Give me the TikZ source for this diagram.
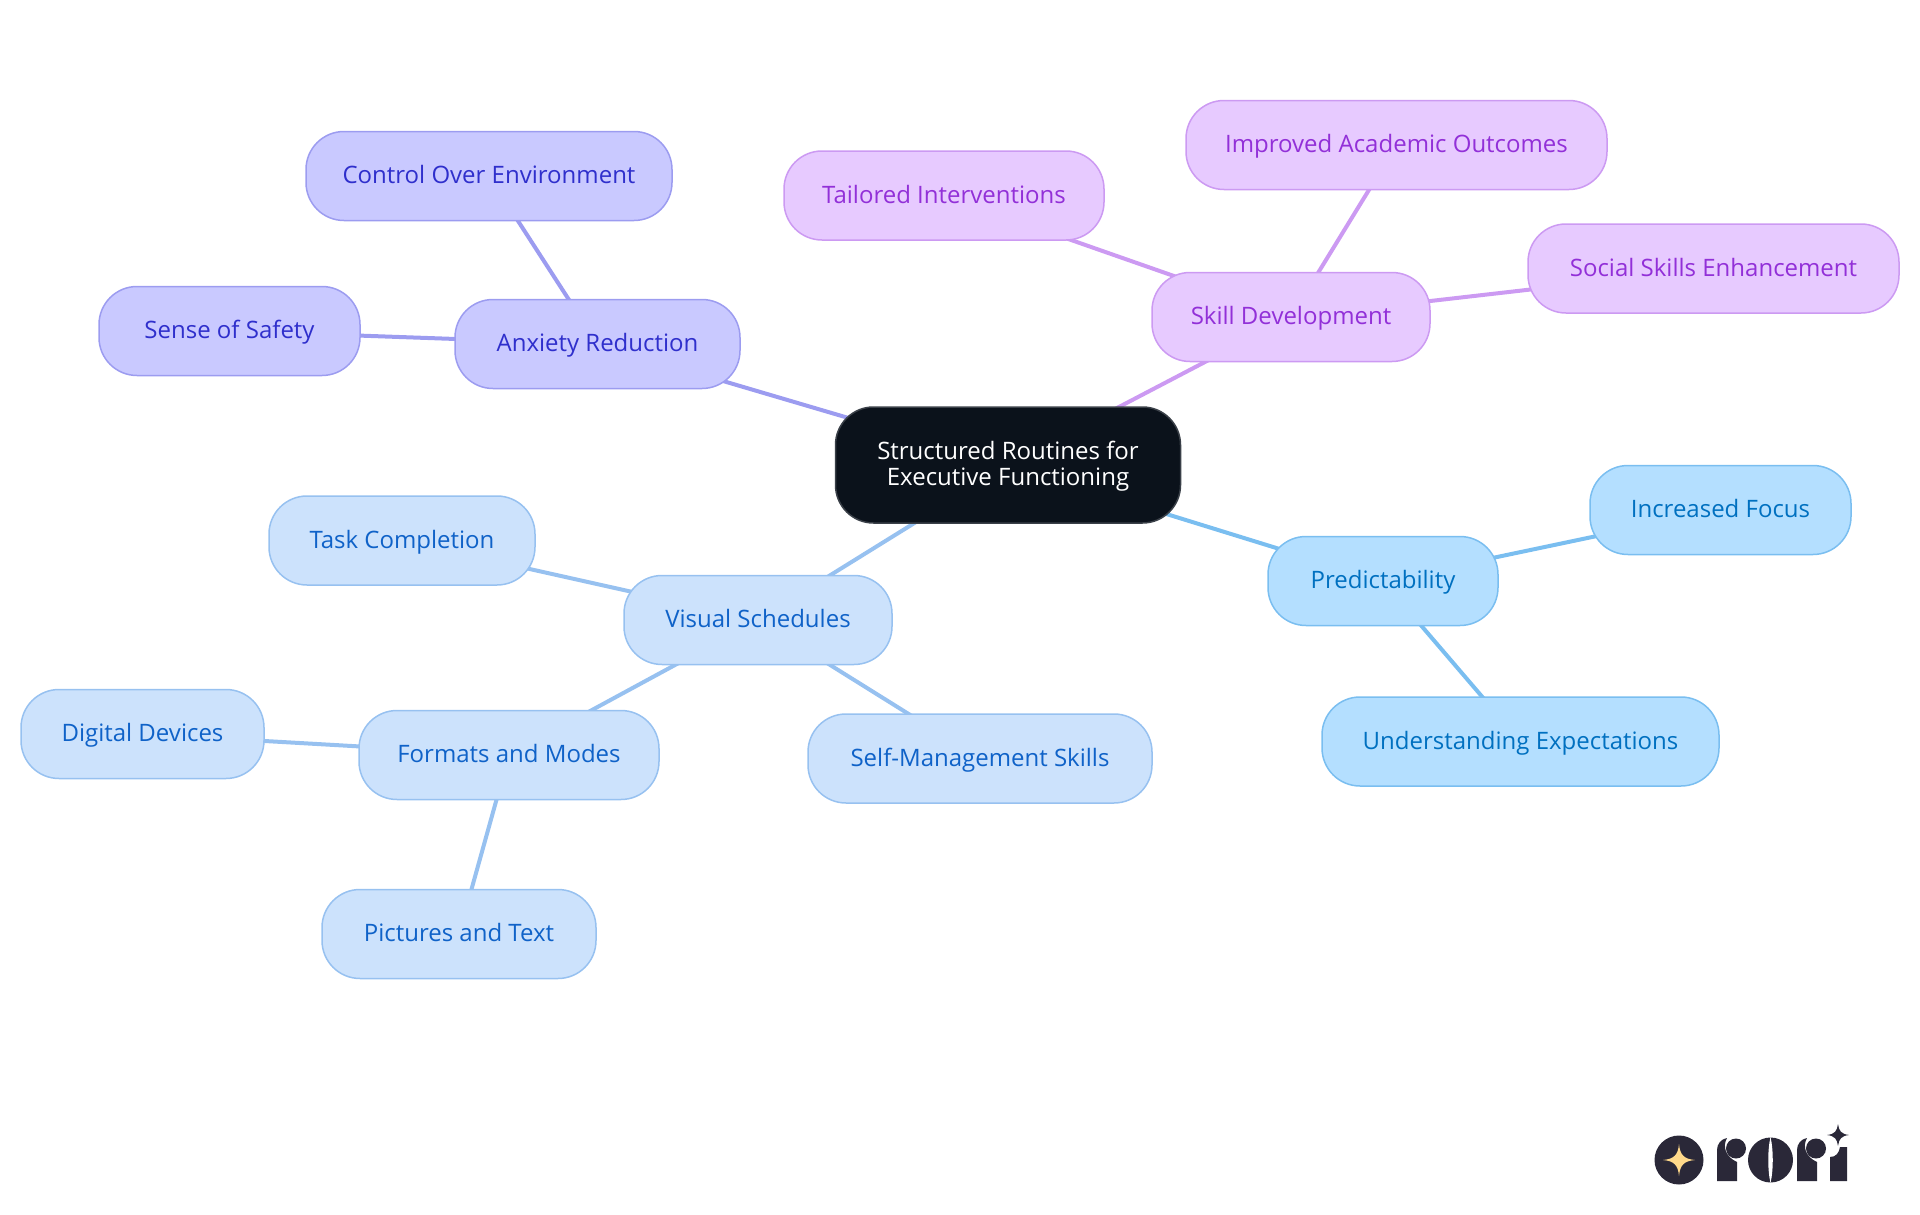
\documentclass[tikz,border=0pt]{standalone}
\usepackage{fontspec}
\setmainfont{Open Sans}
\usetikzlibrary{backgrounds}
\definecolor{rootfill}{HTML}{0B121B}
\definecolor{rootline}{HTML}{3A4048}
\definecolor{calmfill}{HTML}{C9C9FF}
\definecolor{calmline}{HTML}{9C9CF0}
\definecolor{calmtext}{HTML}{2F2FCC}
\definecolor{skillfill}{HTML}{E7CAFF}
\definecolor{skillline}{HTML}{CC9AF2}
\definecolor{skilltext}{HTML}{9230D8}
\definecolor{predfill}{HTML}{B4DFFF}
\definecolor{predline}{HTML}{7ABEF0}
\definecolor{predtext}{HTML}{0070C0}
\definecolor{visfill}{HTML}{CCE2FC}
\definecolor{visline}{HTML}{97C1F0}
\definecolor{vistext}{HTML}{0F62C8}
\definecolor{logodark}{HTML}{2A2838}
\definecolor{logostar}{HTML}{FFD98A}
\tikzset{
	topic/.style={rounded corners=38pt, line width=1.5pt, minimum height=89pt, inner sep=0pt, align=center,
		font=\fontsize{24}{26.3}\selectfont}, % Base de todos los nodos
	oneline/.style={topic, text height=20pt, text depth=4.5pt}, % Misma linea base
	root/.style={topic, fill=rootfill, draw=rootline, text=white},
	calm/.style={oneline, fill=calmfill, draw=calmline, text=calmtext},
	skill/.style={oneline, fill=skillfill, draw=skillline, text=skilltext},
	pred/.style={oneline, fill=predfill, draw=predline, text=predtext},
	vis/.style={oneline, fill=visfill, draw=visline, text=vistext},
	link/.style={line width=4pt}
}
\begin{document}
\begin{tikzpicture}[x=1pt, y=-1pt]
	\useasboundingbox (0,0) rectangle (1920,1215);
	\node[root, minimum width=345pt, minimum height=116pt] (routines) at (1008,465) {\rule{0pt}{22pt}Structured Routines for\\Executive Functioning\rule[-7pt]{0pt}{7pt}};
	\node[calm, minimum width=285pt] (anxiety) at (597.5,344) {Anxiety Reduction};
	\node[calm, minimum width=366pt] (control) at (489,176) {Control Over Environment};
	\node[calm, minimum width=261pt] (safety) at (229.5,331) {Sense of Safety};
	\node[skill, minimum width=278pt] (develop) at (1291,317) {Skill Development};
	\node[skill, minimum width=320pt] (tailored) at (944,195.5) {Tailored Interventions};
	\node[skill, minimum width=421pt] (academic) at (1396.5,145) {Improved Academic Outcomes};
	\node[skill, minimum width=371pt] (social) at (1713.5,268.5) {Social Skills Enhancement};
	\node[pred, minimum width=230pt] (predict) at (1383,581) {Predictability};
	\node[pred, minimum width=261pt] (focus) at (1720.5,510) {Increased Focus};
	\node[pred, minimum width=397pt] (expect) at (1520.5,741.5) {Understanding Expectations};
	\node[vis, minimum width=268pt] (visual) at (758,620) {Visual Schedules};
	\node[vis, minimum width=266pt] (task) at (402,540.5) {Task Completion};
	\node[vis, minimum width=300pt] (formats) at (509,755) {Formats and Modes};
	\node[vis, minimum width=344pt] (selfman) at (980,758.5) {Self-Management Skills};
	\node[vis, minimum width=243pt] (digital) at (142.5,734) {Digital Devices};
	\node[vis, minimum width=274pt] (pictures) at (459,934) {Pictures and Text};
	\begin{scope}[on background layer]
		\draw[link, calmline] (routines.center) -- (anxiety.center);
		\draw[link, calmline] (anxiety.center) -- (control.center);
		\draw[link, calmline] (anxiety.center) -- (safety.center);
		\draw[link, skillline] (routines.center) -- (develop.center);
		\draw[link, skillline] (develop.center) -- (tailored.center);
		\draw[link, skillline] (develop.center) -- (academic.center);
		\draw[link, skillline] (develop.center) -- (social.center);
		\draw[link, predline] (routines.center) -- (predict.center);
		\draw[link, predline] (predict.center) -- (focus.center);
		\draw[link, predline] (predict.center) -- (expect.center);
		\draw[link, visline] (routines.center) -- (visual.center);
		\draw[link, visline] (visual.center) -- (task.center);
		\draw[link, visline] (visual.center) -- (formats.center);
		\draw[link, visline] (visual.center) -- (selfman.center);
		\draw[link, visline] (formats.center) -- (digital.center);
		\draw[link, visline] (formats.center) -- (pictures.center);
	\end{scope}
	% Logo
	\fill[logodark] (1679,1160) circle (24.5);
	\fill[logostar] (1679,1144) .. controls (1680,1155) and (1684,1159) .. (1695,1160) .. controls (1684,1161) and (1680,1165) .. (1679,1176) .. controls (1678,1165) and (1674,1161) .. (1663,1160) .. controls (1674,1159) and (1678,1155) .. (1679,1144) -- cycle;
	\fill[logodark] (1717,1181) -- (1717,1150) .. controls (1717,1144) and (1721,1139) .. (1727,1138) .. controls (1722,1147) and (1726,1157) .. (1737,1162) -- (1737,1181) -- cycle;
	\fill[logodark] (1736,1148.5) circle (10);
	\fill[logodark] (1770.5,1160) circle (22.5);
	\fill[white] (1770.5,1137) .. controls (1767.5,1150) and (1767.5,1170) .. (1770.5,1183) .. controls (1773.5,1170) and (1773.5,1150) .. (1770.5,1137) -- cycle;
	\fill[logodark] (1797,1181) -- (1797,1150) .. controls (1797,1144) and (1801,1139) .. (1807,1138) .. controls (1802,1147) and (1806,1157) .. (1817,1162) -- (1817,1181) -- cycle;
	\fill[logodark] (1816,1148.5) circle (10);
	\fill[logodark] (1830,1181) -- (1830,1157) .. controls (1836,1157) and (1839,1153) .. (1840,1147) -- (1847,1147) -- (1847,1181) -- cycle;
	\fill[logodark] (1838,1124) .. controls (1839,1131) and (1841,1134) .. (1849,1135) .. controls (1841,1136) and (1839,1139) .. (1838,1146) .. controls (1837,1139) and (1835,1136) .. (1827,1135) .. controls (1835,1134) and (1837,1131) .. (1838,1124) -- cycle;
\end{tikzpicture}
\end{document}
